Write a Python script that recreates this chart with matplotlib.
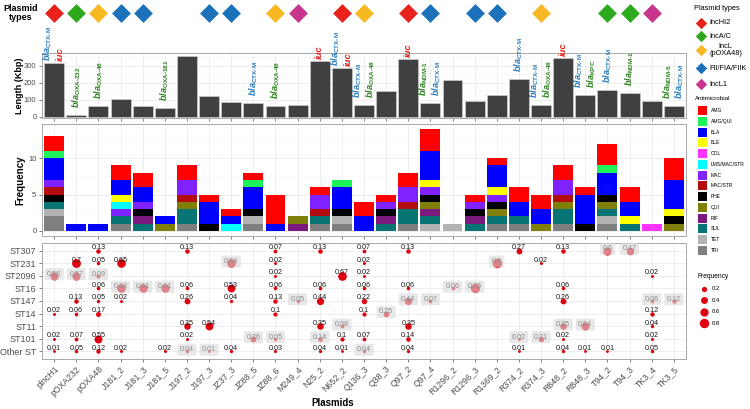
import numpy as np
import matplotlib.pyplot as plt
from matplotlib.ticker import MultipleLocator

plt.rcParams['font.family'] = ['Liberation Sans', 'DejaVu Sans']
plt.rcParams['mathtext.fontset'] = 'custom'
plt.rcParams['mathtext.it'] = 'Liberation Sans:italic:bold'
plt.rcParams['mathtext.rm'] = 'Liberation Sans:bold'
plt.rcParams['mathtext.bf'] = 'Liberation Sans:bold'

# ---- data ----
plasmids = ['plncH1', 'pOXA232', 'pOXA48', 'J181_2', 'J181_3', 'J181_5', 'J197_2', 'J197_3',
            'JZ37_3', 'JZ88_5', 'JZ88_6', 'M249_4', 'N25_2', 'N652_2', 'Q136_3', 'Q38_3',
            'Q97_2', 'Q97_4', 'R1296_2', 'R1296_3', 'R1369_2', 'R374_2', 'R374_3', 'R848_2',
            'R848_3', 'T94_2', 'T94_3', 'TK3_4', 'TK3_5']
plasmid_type = ['IncHI2', 'IncA/C', 'IncL', 'FII', 'FII', None, None, 'FII',
                'FII', None, 'IncL', 'IncL1', None, 'IncHI2', 'IncL', None,
                'IncHI2', 'FII', None, 'FII', 'FII', None, 'IncL', None,
                None, 'IncA/C', 'IncA/C', 'IncL1', None]
length_kbp = [318, 8, 63, 102, 61, 51, 357, 122, 88, 80, 65, 69, 329, 288, 70, 150,
              343, 82, 216, 92, 127, 224, 69, 349, 129, 157, 141, 92, 63]

gene_plasmid = ['plncH1', 'plncH1', 'pOXA232', 'pOXA48', 'J181_5', 'JZ88_5', 'JZ88_6',
                'N25_2', 'N652_2', 'N652_2', 'Q136_3', 'Q136_3', 'Q97_2', 'Q97_4', 'Q97_4',
                'R374_2', 'R374_3', 'R374_3', 'R848_2', 'R848_3', 'R848_3', 'T94_2',
                'T94_3', 'TK3_5', 'TK3_5']
gene_name = ['CTX-M', 'iuc', 'OXA-232', 'OXA-48', 'OXA-181', 'CTX-M', 'OXA-48',
             'iuc', 'CTX-M', 'iuc', 'CTX-M', 'OXA-48', 'iuc', 'NDM-1', 'CTX-M',
             'CTX-M', 'CTX-M', 'OXA-48', 'iuc', 'CTX-M', 'KPC', 'CTX-M',
             'NDM-1', 'NDM-5', 'CTX-M']

amr_classes = ['AMG', 'AMG/QUI', 'BLA', 'BLE', 'COL', 'LMS/MAC/STR', 'MAC', 'MAC/STR',
               'PHE', 'QUI', 'RIF', 'SUL', 'TET', 'TRI']
amr_counts = {
    'AMG':         [2,0,0,2,2,0,2,1,1,1,4,0,1,0,2,1,2,3,0,1,1,2,2,2,1,3,2,0,3],
    'AMG/QUI':     [1,0,0,0,0,0,0,0,0,1,0,0,0,1,0,0,0,0,0,0,0,0,0,0,0,1,0,0,0],
    'BLA':         [3,1,1,2,2,1,0,3,1,3,1,0,0,3,2,0,0,4,0,0,3,2,2,0,4,3,2,0,4],
    'BLE':         [0,0,0,1,0,0,0,0,0,0,0,0,0,0,0,0,0,1,0,0,1,0,0,0,0,0,1,0,1],
    'COL':         [0,0,0,0,0,0,0,0,0,0,0,0,0,0,0,0,0,0,0,0,0,0,0,0,0,0,0,1,0],
    'LMS/MAC/STR': [0,0,0,1,0,0,0,0,1,0,0,0,0,0,0,0,0,0,0,0,0,0,0,0,0,0,0,0,0],
    'MAC':         [1,0,0,1,1,0,2,0,0,0,0,0,2,0,0,1,2,1,0,1,1,0,0,2,0,0,0,0,0],
    'MAC/STR':     [1,0,0,0,0,0,1,0,0,0,0,0,1,0,0,0,1,0,0,0,0,0,0,1,0,0,0,0,0],
    'PHE':         [1,0,0,0,1,0,0,1,0,1,0,0,0,1,0,1,0,1,0,1,1,0,0,0,1,1,0,0,1],
    'QUI':         [0,0,0,0,0,1,1,0,0,0,0,1,0,0,0,0,0,1,0,0,1,0,1,1,0,1,0,0,1],
    'RIF':         [0,0,0,0,1,0,0,0,0,0,0,1,0,0,0,1,0,1,0,1,0,0,0,0,0,0,0,0,0],
    'SUL':         [1,0,0,1,1,0,2,0,0,0,0,0,1,0,0,1,2,1,0,1,1,1,0,2,0,1,1,0,0],
    'TET':         [1,0,0,0,0,0,0,0,0,1,0,0,0,1,0,0,0,1,1,0,0,0,0,0,0,1,0,0,0],
    'TRI':         [2,0,0,1,0,0,1,0,0,1,0,0,1,1,0,0,1,0,0,0,1,1,0,1,0,1,0,0,0],
}

st_rows = ['ST307', 'ST231', 'ST2096', 'ST16', 'ST147', 'ST14', 'ST11', 'ST101', 'Other ST']
st_plasmid = ['pOXA48', 'J197_2', 'JZ88_6', 'N25_2', 'Q136_3', 'Q97_2', 'R374_2', 'R848_2', 'T94_2', 'T94_3',
              'pOXA232', 'pOXA48', 'J181_2', 'JZ37_3', 'JZ88_6', 'Q136_3', 'R1369_2', 'R374_3',
              'plncH1', 'pOXA232', 'pOXA48', 'JZ88_6', 'N652_2', 'Q136_3', 'TK3_4',
              'pOXA48', 'J181_2', 'J181_3', 'J181_5', 'J197_2', 'JZ37_3', 'JZ88_6', 'N25_2', 'Q136_3',
              'Q97_2', 'R1296_2', 'R1296_3', 'R848_2',
              'pOXA232', 'pOXA48', 'J181_2', 'J197_2', 'JZ37_3', 'JZ88_6', 'M249_4', 'N25_2', 'Q136_3',
              'Q97_2', 'Q97_4', 'R848_2', 'TK3_4', 'TK3_5',
              'plncH1', 'pOXA232', 'pOXA48', 'JZ88_6', 'Q136_3', 'Q38_3', 'TK3_4',
              'J197_2', 'J197_3', 'N25_2', 'N652_2', 'Q97_2', 'R848_2', 'R848_3', 'TK3_4',
              'plncH1', 'pOXA232', 'pOXA48', 'J197_2', 'JZ88_5', 'JZ88_6', 'N25_2', 'N652_2', 'Q136_3',
              'Q97_2', 'R374_2', 'R374_3', 'R848_2', 'TK3_4',
              'plncH1', 'pOXA232', 'pOXA48', 'J181_2', 'J181_5', 'J197_2', 'J197_3', 'JZ37_3', 'JZ88_6',
              'N25_2', 'N652_2', 'Q136_3', 'Q97_2', 'R374_2', 'R848_2', 'R848_3', 'T94_2', 'TK3_4']
st_name = (['ST307'] * 10 + ['ST231'] * 8 + ['ST2096'] * 7 + ['ST16'] * 13 + ['ST147'] * 14
           + ['ST14'] * 7 + ['ST11'] * 8 + ['ST101'] * 14 + ['Other ST'] * 18)
st_freq = [0.13, 0.13, 0.07, 0.13, 0.07, 0.13, 0.27, 0.13, 0.6, 0.47,
           0.7, 0.05, 0.65, 0.64, 0.02, 0.02, 0.80, 0.02,
           0.56, 0.57, 0.09, 0.02, 0.67, 0.02, 0.02,
           0.06, 0.63, 0.61, 0.61, 0.06, 0.53, 0.06, 0.06, 0.06, 0.06, 0.06, 0.76, 0.06,
           0.13, 0.05, 0.02, 0.26, 0.04, 0.13, 0.05, 0.44, 0.22, 0.44, 0.07, 0.26, 0.06, 0.12,
           0.02, 0.06, 0.17, 0.1, 0.1, 0.25, 0.12,
           0.35, 0.54, 0.35, 0.08, 0.35, 0.35, 0.54, 0.04,
           0.02, 0.07, 0.55, 0.02, 0.26, 0.05, 0.14, 0.1, 0.07, 0.14, 0.02, 0.21, 0.02, 0.02,
           0.01, 0.05, 0.12, 0.02, 0.02, 0.04, 0.01, 0.04, 0.03, 0.04, 0.01, 0.04, 0.04, 0.01,
           0.04, 0.01, 0.01, 0.05]
st_faded = [0, 0, 0, 0, 0, 0, 0, 0, 1, 1,
            0, 0, 0, 1, 0, 0, 1, 0,
            1, 1, 1, 0, 0, 0, 0,
            0, 1, 1, 1, 0, 0, 0, 0, 0, 0, 1, 1, 0,
            0, 0, 0, 0, 0, 0, 1, 0, 0, 1, 1, 0, 1, 1,
            0, 0, 0, 0, 0, 1, 0,
            0, 0, 0, 1, 0, 1, 1, 0,
            0, 0, 0, 0, 1, 1, 1, 0, 0, 0, 1, 1, 0, 0,
            0, 0, 0, 0, 0, 1, 1, 0, 0, 0, 0, 1, 0, 0, 0, 0, 0, 0]

# ---- styles ----
type_order = ['IncHI2', 'IncA/C', 'IncL', 'FII', 'IncL1']
type_labels = ['IncHI2', 'IncA/C', 'IncL\n(pOXA48)', 'FII/FIA/FIIK', 'IncL1']
type_colors = {'IncHI2': '#E8231C', 'IncA/C': '#2EA81C', 'IncL': '#F8B823',
               'FII': '#1B72BA', 'IncL1': '#C8358C'}
amr_colors = {'AMG': '#FF0000', 'AMG/QUI': '#1EF25A', 'BLA': '#0000FF', 'BLE': '#FFFF00',
              'COL': '#FF33FF', 'LMS/MAC/STR': '#00FFFF', 'MAC': '#7F22FF', 'MAC/STR': '#B30C0C',
              'PHE': '#000000', 'QUI': '#7F7F0A', 'RIF': '#7A1A7F', 'SUL': '#087474',
              'TET': '#B3B3B3', 'TRI': '#7F7F7F'}
blue, green, red = '#2A7DC0', '#2E8420', '#E3231F'


def gene_color(g):
    if g == 'iuc':
        return red
    return blue if g == 'CTX-M' else green


def dot_area(f):
    return 53 * (f + 0.07)


W, H = 750, 409
fig = plt.figure(figsize=(W / 100, H / 100), dpi=100)


def panel(left, top, right, bottom):
    return fig.add_axes([left / W, 1 - bottom / H, (right - left) / W, (bottom - top) / H])


def style(ax):
    for sp in ax.spines.values():
        sp.set_color('#A8A8A8')
        sp.set_linewidth(0.7)
    ax.set_axisbelow(True)
    ax.grid(True, which='major', color='#EBEBEB', lw=0.6)
    ax.grid(True, which='minor', axis='y', color='#F3F3F3', lw=0.4)
    ax.tick_params(length=2.5, width=0.5, color='#4D4D4D', labelsize=5.5,
                   labelcolor='#4D4D4D', pad=1.5)
    ax.tick_params(which='minor', length=0)
    ax.set_xlim(-0.55, len(plasmids) - 0.45)
    ax.set_xticks(range(len(plasmids)))


x = np.arange(len(plasmids))

# plasmid type row
ax_t = panel(42, 0, 686, 25)
ax_t.set_xlim(-0.55, len(plasmids) - 0.45)
ax_t.set_ylim(0, 1)
ax_t.axis('off')
for i, t in enumerate(plasmid_type):
    if t:
        ax_t.scatter(i, 0.5, marker='D', s=92, color=type_colors[t], lw=0)
fig.text(21 / W, 1 - 13 / H, 'Plasmid\ntypes', ha='center', va='center',
         fontsize=6.5, fontweight='bold', linespacing=1.0)

# length panel
ax_l = panel(42, 53, 686, 118)
style(ax_l)
ax_l.bar(x, length_kbp, width=0.9, color='#404040', edgecolor='#D8D8D8', lw=0.4)
ax_l.set_ylim(-8, 376)
ax_l.set_yticks([0, 100, 200, 300])
ax_l.yaxis.set_minor_locator(MultipleLocator(50))
ax_l.tick_params(axis='x', labelbottom=False)
for p in plasmids:
    idx = [k for k, q in enumerate(gene_plasmid) if q == p]
    offs = [0.0] if len(idx) == 1 else [-0.29, 0.29]
    i = plasmids.index(p)
    ybase = length_kbp[i] + (12 if length_kbp[i] > 250 else 42)
    for k, dx in zip(idx, offs):
        g = gene_name[k]
        if g == 'iuc':
            ax_l.text(i + dx, ybase, 'iuc', rotation=90, ha='center', va='bottom',
                      fontsize=6.8, fontweight='bold', fontstyle='italic',
                      color=red, clip_on=False)
        else:
            ax_l.text(i + dx, ybase, r'$\mathit{bla}_{\text{%s}}$' % g, rotation=90,
                      ha='center', va='bottom', fontsize=6.6, color=gene_color(g),
                      clip_on=False)
fig.text(20 / W, 1 - 86 / H, 'Length (Kbp)', rotation=90, ha='center', va='center',
         fontsize=6.5, fontweight='bold')

# frequency panel
ax_f = panel(42, 124, 686, 236)
style(ax_f)
bottom = np.zeros(len(plasmids))
for c in amr_classes[::-1]:
    v = np.array(amr_counts[c])
    ax_f.bar(x, v, width=0.9, bottom=bottom, color=amr_colors[c], lw=0)
    bottom += v
ax_f.set_ylim(-0.7, 14.7)
ax_f.set_yticks([0, 5, 10])
ax_f.yaxis.set_minor_locator(MultipleLocator(2.5))
ax_f.tick_params(axis='x', labelbottom=False)
fig.text(20 / W, 1 - 180 / H, 'Frequency', rotation=90, ha='center', va='center',
         fontsize=7, fontweight='bold')

# ST dot panel
ax_d = panel(42, 243, 686, 359)
style(ax_d)
row_y = {s: len(st_rows) - k for k, s in enumerate(st_rows)}
ax_d.set_ylim(0.4, len(st_rows) + 0.6)
ax_d.set_yticks([row_y[s] for s in st_rows])
ax_d.set_yticklabels(st_rows, fontsize=6.5)
ax_d.set_xticklabels(plasmids, rotation=45, ha='right', rotation_mode='anchor', fontsize=6.3)
for p, s, f, faded in zip(st_plasmid, st_name, st_freq, st_faded):
    xi, yi = plasmids.index(p), row_y[s]
    ax_d.scatter(xi, yi, s=dot_area(f), color='#E0000F', lw=0, zorder=3)
    if faded:
        ax_d.annotate(f'{f:g}', (xi, yi), xytext=(0, 1.2), textcoords='offset points',
                      ha='center', va='center', fontsize=5.2, color='#8C8C8C', zorder=4,
                      bbox=dict(boxstyle='round,pad=0.35,rounding_size=0.2', fc='#DADADA',
                                ec='none', alpha=0.6))
    else:
        ax_d.annotate(f'{f:g}', (xi, yi), xytext=(0, 2.2), textcoords='offset points',
                      ha='center', va='center', fontsize=5.2, color='#1A1A1A', zorder=5)
fig.text(333 / W, 1 - 403 / H, 'Plasmids', ha='center', va='center',
         fontsize=7, fontweight='bold')

# legends (drawn in pixel space on the right)
lg = fig.add_axes([0, 0, 1, 1], facecolor='none')
lg.set_xlim(0, W)
lg.set_ylim(H, 0)
lg.axis('off')
lg.text(694, 8, 'Plasmid types', fontsize=5.3, va='center')
for t, lab, yy in zip(type_order, type_labels, [23, 36, 50, 68, 84]):
    lg.scatter(701, yy, marker='D', s=34, color=type_colors[t], lw=0)
    lg.text(709, yy, lab, fontsize=5.3, va='center', ha='left', multialignment='center',
            linespacing=1.0)
lg.text(695, 99, 'Antimicrobial', fontsize=4.5, va='center')
for k, c in enumerate(amr_classes):
    yy = 110.7 + 10.75 * k
    lg.add_patch(plt.Rectangle((697.5, yy - 4.5), 9, 9, color=amr_colors[c], lw=0))
    lg.text(711, yy, c, fontsize=3.6, va='center')
lg.text(698, 277, 'Frequency', fontsize=4.8, va='center')
for k, f in enumerate([0.2, 0.4, 0.6, 0.8]):
    yy = 289 + 11.4 * k
    lg.scatter(703.5, yy, s=dot_area(f), color='#E0000F', lw=0)
    lg.text(712, yy, f'{f:g}', fontsize=4.2, va='center')

fig.savefig('out.png', dpi=100)
